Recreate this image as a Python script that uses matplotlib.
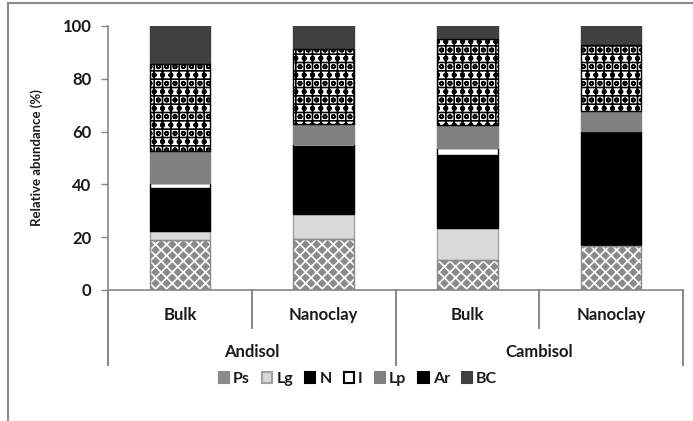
import matplotlib.pyplot as plt
import numpy as np
from matplotlib.patches import Patch
from matplotlib.lines import Line2D

plt.rcParams["font.family"] = ["Lato", "DejaVu Sans"]
plt.rcParams["hatch.linewidth"] = 1.2

soils = ["Andisol", "Cambisol"]
fractions = ["Bulk", "Nanoclay", "Bulk", "Nanoclay"]
components = ["Ps", "Lg", "N", "I", "Lp", "Ar", "BC"]

# relative abundance (%) per bar: Andisol Bulk, Andisol Nano, Cambisol Bulk, Cambisol Nano
ps = [19.0, 19.5, 11.5, 16.5]
lg = [3.2, 9.2, 12.0, 0.6]
n = [16.3, 25.7, 27.8, 43.0]
i_ = [2.2, 1.0, 2.5, 0.0]
lp = [12.0, 7.3, 8.6, 7.6]
ar = [32.9, 28.4, 32.5, 25.1]
bc = [14.4, 8.9, 5.1, 7.2]
series = [ps, lg, n, i_, lp, ar, bc]

# face, hatch colour, hatch, edge
styles = [
    ("#8a8a8a", "white", "xxx", "#8a8a8a"),
    ("#d9d9d9", None, "", "#a0a0a0"),
    ("black", None, "", "black"),
    ("white", None, "", "black"),
    ("#808080", None, "", "#808080"),
    ("white", "black", "oo++", "black"),
    ("#404040", None, "", "#404040"),
]

txt = "#1a1a1a"
fig = plt.figure(figsize=(6.93, 4.21), dpi=100)
ax = fig.add_axes([108 / 693, 131 / 421, 575 / 693, 264 / 421])

x = np.arange(len(fractions))
width = 0.42
bottom = np.zeros(len(fractions))
for vals, (face, hcol, hatch, edge) in zip(series, styles):
    vals = np.array(vals)
    if hatch:
        ax.bar(x, vals, width, bottom=bottom, color=face, hatch=hatch,
               edgecolor=hcol, linewidth=0, zorder=2)
        ax.bar(x, vals, width, bottom=bottom, fill=False,
               edgecolor=edge, linewidth=1.0, zorder=3)
    else:
        ax.bar(x, vals, width, bottom=bottom, color=face,
               edgecolor=edge, linewidth=1.0, zorder=2)
    bottom += vals

axis_col = "#868686"
ax.set_xlim(-0.5, 3.5)
ax.set_ylim(0, 100)
ax.set_yticks(range(0, 101, 20))
ax.tick_params(axis="y", length=5, color=axis_col, width=1, labelsize=12, pad=7)
for lbl in ax.get_yticklabels():
    lbl.set_fontweight("bold")
    lbl.set_color(txt)
ax.set_xticks([])
for s in ["top", "right"]:
    ax.spines[s].set_visible(False)
for s in ["left", "bottom"]:
    ax.spines[s].set_color(axis_col)
    ax.spines[s].set_linewidth(1.2)
ax.set_ylabel("Relative abundance (%)", fontsize=9.5, fontweight="bold",
              color=txt, labelpad=14)

# multi-level category axis
tr = ax.get_xaxis_transform()
y_short = -38 / 264
y_long = -75 / 264
for k, xd in enumerate(np.arange(-0.5, 4.0, 1.0)):
    y_end = y_long if k % 2 == 0 else y_short
    ax.add_line(Line2D([xd, xd], [0, y_end], transform=tr, color=axis_col,
                       lw=1.4, clip_on=False))
for xi, lab in zip(x, fractions):
    ax.text(xi, -25 / 264, lab, transform=tr, ha="center", va="center",
            fontsize=12, fontweight="bold", color=txt)
for k, soil in enumerate(soils):
    ax.text(0.5 + 2 * k, -62 / 264, soil, transform=tr, ha="center", va="center",
            fontsize=12, fontweight="bold", color=txt)

# legend swatches: patterns are too small to read at this size, use plain fills
legend_faces = ["#8a8a8a", "#d9d9d9", "black", "white", "#808080", "black", "#404040"]
legend_edges = ["#8a8a8a", "#a0a0a0", "black", "black", "#808080", "black", "#404040"]
handles = [Patch(facecolor=f, edgecolor=e, linewidth=1.5)
           for f, e in zip(legend_faces, legend_edges)]
fig.legend(handles, components, loc="center", bbox_to_anchor=(358 / 693, 1 - 379 / 421),
           ncol=7, frameon=False, handlelength=0.65, handleheight=0.65,
           handletextpad=0.25, columnspacing=0.75,
           prop={"size": 11.5, "weight": "bold"}, labelcolor=txt)

# outer chart border
fig.add_artist(Line2D([7.5 / 693, 7.5 / 693], [1 - 3 / 421, 0.5 / 421],
                      transform=fig.transFigure, color="#8c8c8c", lw=1.5))
fig.add_artist(Line2D([7.5 / 693, 1], [1 - 3 / 421, 1 - 3 / 421],
                      transform=fig.transFigure, color="#8c8c8c", lw=1.5))
fig.add_artist(Line2D([7.5 / 693, 1], [0.5 / 421, 0.5 / 421],
                      transform=fig.transFigure, color="#d0d0d0", lw=1.0))

fig.savefig("out.png", dpi=100)
